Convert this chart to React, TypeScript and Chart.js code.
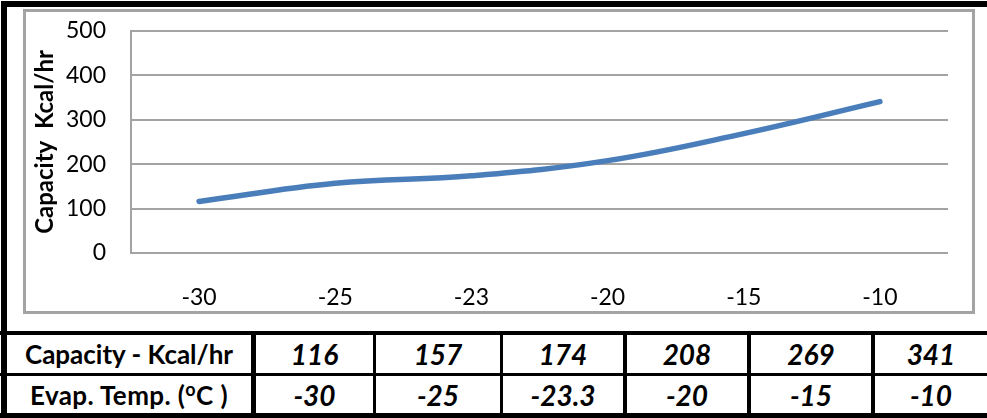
import React, { useEffect, useRef } from "react";
import { Chart, registerables } from "chart.js";
Chart.register(...registerables);

const categories = ["-30", "-25", "-23", "-20", "-15", "-10"];
const capacity = [116, 157, 174, 208, 269, 341];
const tempValues = ["-30", "-25", "-23.3", "-20", "-15", "-10"];
const capacityCells = ["116", "157", "174", "208", "269", "341"];
const yMin = 0;
const yMax = 500;
const yStep = 100;
const yTitle = "Capacity  Kcal/hr";

const FONT = "Lato, 'Open Sans', sans-serif";
const GRID = "#a3a3a3";

const colBounds: [number, number][] = [
  [256, 373],
  [376, 500],
  [503, 623],
  [627, 747],
  [751, 871],
  [875, 987],
];
const dividers: [number, number][] = [
  [251, 5],
  [373, 3],
  [500, 3],
  [623, 4],
  [747, 4],
  [871, 4],
];

function Black({ l, t, w, h }: { l: number; t: number; w: number; h: number }) {
  return <div style={{ position: "absolute", left: l, top: t, width: w, height: h, background: "#000" }} />;
}

function Cell({ l, r, t, h, children, style }: any) {
  return (
    <div
      style={{
        position: "absolute",
        left: l,
        top: t,
        width: r - l,
        height: h,
        display: "flex",
        alignItems: "center",
        justifyContent: "center",
        fontFamily: FONT,
        color: "#000",
        whiteSpace: "nowrap",
        lineHeight: 1,
        ...style,
      }}
    >
      {children}
    </div>
  );
}

export default function App() {
  const ref = useRef<HTMLCanvasElement | null>(null);
  useEffect(() => {
    if (!ref.current) return;
    const chart = new Chart(ref.current, {
      type: "line",
      data: {
        labels: categories,
        datasets: [
          {
            data: capacity,
            borderColor: "#4a7ebb",
            borderWidth: 5.5,
            pointRadius: 0,
            tension: 0.4,
            fill: false,
            borderCapStyle: "round",
          },
        ],
      },
      options: {
        animation: false,
        responsive: false,
        maintainAspectRatio: false,
        layout: { padding: { left: 0, top: 19, right: 24, bottom: 0 } },
        plugins: { legend: { display: false }, tooltip: { enabled: false } },
        scales: {
          x: {
            offset: true,
            grid: { display: false, drawTicks: false },
            border: { display: false },
            ticks: { color: "#000", font: { family: FONT, size: 23 }, padding: 31, maxRotation: 0 },
            afterFit: (s: any) => {
              s.height = 58;
              s.paddingLeft = 0;
              s.paddingRight = 0;
            },
          },
          y: {
            min: yMin,
            max: yMax,
            ticks: { stepSize: yStep, color: "#000", font: { family: FONT, size: 23 }, padding: 25 },
            grid: { color: GRID, lineWidth: 2, drawTicks: false },
            border: { display: true, color: GRID, width: 2 },
            title: {
              display: true,
              text: yTitle,
              color: "#000",
              font: { family: FONT, size: 24, weight: "bold" },
              padding: { top: 5, bottom: 0 },
            },
            afterFit: (s: any) => {
              s.width = 105;
              s.paddingTop = 0;
              s.paddingBottom = 0;
            },
          },
        },
      },
    });
    return () => chart.destroy();
  }, []);

  return (
    <div style={{ position: "fixed", left: 0, top: 0, width: 987, height: 418, background: "#fff", overflow: "hidden" }}>
      <div
        style={{
          position: "absolute",
          left: 23,
          top: 9,
          width: 952,
          height: 305,
          border: `3px solid ${GRID}`,
          boxSizing: "border-box",
        }}
      >
        <canvas ref={ref} width={946} height={299} style={{ display: "block", width: 946, height: 299 }} />
      </div>
      <Black l={3} t={1} w={984} h={6} />
      <Black l={1} t={1} w={6} h={416} />
      <Black l={0} t={331} w={987} h={4} />
      <Black l={0} t={373} w={987} h={3} />
      <Black l={0} t={413} w={987} h={5} />
      {dividers.map(([l, w], i) => (
        <Black key={i} l={l} t={331} w={w} h={86} />
      ))}
      <Cell l={7} r={251} t={335} h={38} style={{ fontWeight: 700, fontSize: 26 }}>
        Capacity - Kcal/hr
      </Cell>
      <Cell l={7} r={251} t={376} h={37} style={{ fontWeight: 700, fontSize: 26, letterSpacing: 0.4 }}>
        <span>
          Evap. Temp. (<span style={{ fontSize: 18, position: "relative", top: -9 }}>o</span>C )
        </span>
      </Cell>
      {colBounds.map(([l, r], i) => (
        <Cell key={"c" + i} l={l} r={r} t={335} h={38} style={{ fontWeight: 700, fontStyle: "italic", fontSize: 28 }}>
          {capacityCells[i]}
        </Cell>
      ))}
      {colBounds.map(([l, r], i) => (
        <Cell key={"t" + i} l={l} r={r} t={376} h={37} style={{ fontWeight: 700, fontStyle: "italic", fontSize: 28 }}>
          {tempValues[i]}
        </Cell>
      ))}
    </div>
  );
}
